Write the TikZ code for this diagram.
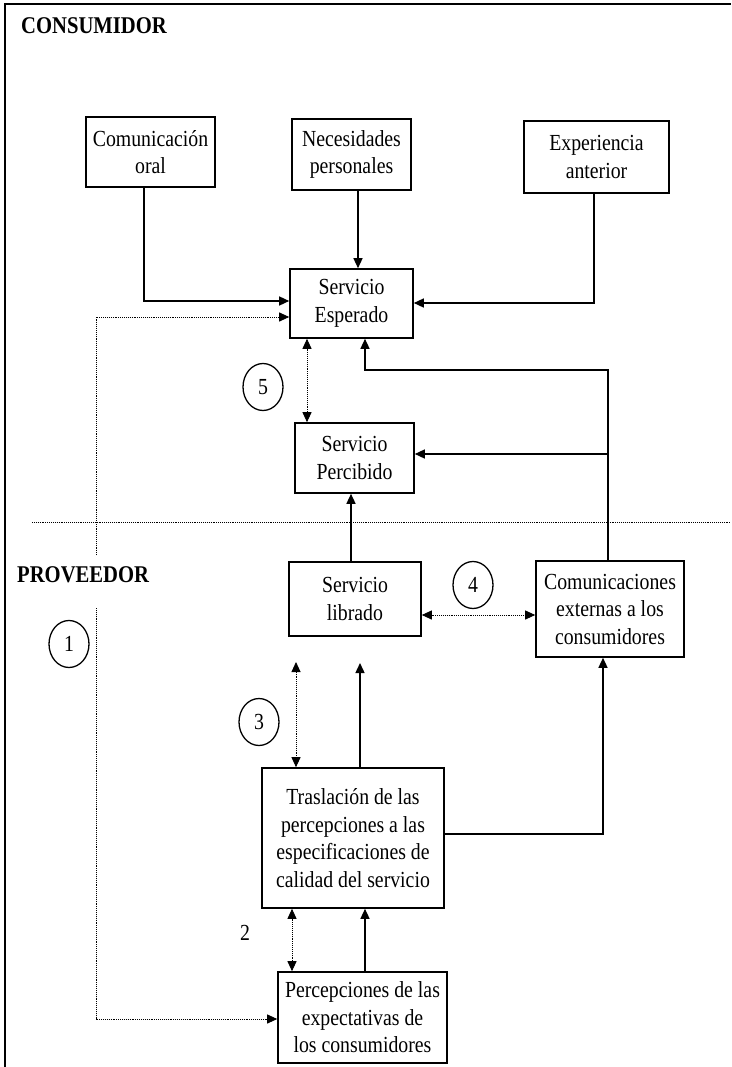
\documentclass[tikz,border=0pt]{standalone}
\usepackage{fontspec}
\setmainfont{Liberation Serif}
\newfontfamily\boxfont[FakeStretch=0.86]{Liberation Serif}
\newfontfamily\headfont[FakeStretch=0.86]{Liberation Serif}
\usetikzlibrary{arrows.meta,shapes.geometric}

\begin{document}
\begin{tikzpicture}[x=1pt,y=-1pt,
  box/.style={draw,line width=1.6pt,inner sep=0pt,align=center,
    font=\boxfont\fontsize{23}{27.5}\selectfont},
  conn/.style={line width=1.4pt,-{Triangle[length=10pt,width=9pt]}},
  dot/.style={densely dotted,line width=0.9pt},
  tipd/.style={-{Triangle[length=10pt,width=9pt]}},
  both/.style={{Triangle[length=10pt,width=9pt]}-{Triangle[length=10pt,width=9pt]}},
  num/.style={draw,ellipse,line width=1.3pt,minimum width=40pt,minimum height=47pt,
    inner sep=0pt,font=\boxfont\fontsize{23}{24}\selectfont},
  heading/.style={anchor=west,inner sep=0pt,font=\headfont\bfseries\fontsize{24}{26}\selectfont}]

\useasboundingbox[fill=white] (0,0) rectangle (731,1067);

% frame
\draw[line width=1.6pt] (5,1067) -- (5,4) -- (731,4);

% headings
\node[heading] (cons) at (21,26) {CONSUMIDOR};
\node[heading] (prov) at (17,575) {PROVEEDOR};

% boxes
\node[box,minimum width=129pt,minimum height=70pt] (oral) at (150.5,152) {Comunicación\\oral};
\node[box,minimum width=119pt,minimum height=71pt] (nec) at (351.5,154.5) {Necesidades\\personales};
\node[box,minimum width=145pt,minimum height=72pt] (exp) at (596.5,157) {Experiencia\\anterior};
\node[box,minimum width=123pt,minimum height=69pt] (esp) at (351.5,303.5) {Servicio\\Esperado};
\node[box,minimum width=119pt,minimum height=70pt] (perc) at (354.5,458) {Servicio\\Percibido};
\node[box,minimum width=132pt,minimum height=74pt] (libr) at (355,599) {Servicio\\librado};
\node[box,minimum width=148pt,minimum height=96pt] (com) at (610,609) {Comunicaciones\\externas a los\\consumidores};
\node[box,minimum width=182pt,minimum height=140pt] (tras) at (353,838) {Traslación de las\\percepciones a las\\especificaciones de\\calidad del servicio};
\node[box,minimum width=169pt,minimum height=91pt] (pexp) at (362.5,1017.5) {Percepciones de las\\expectativas de\\los consumidores};

% numbers
\node[num] (n5) at (263,387) {5};
\node[num] (n4) at (473,585) {4};
\node[num] (n1) at (69,644) {1};
\node[num] (n3) at (259,722) {3};
\node[inner sep=0pt,font=\boxfont\fontsize{23}{24}\selectfont] (n2) at (245,933) {2};

% helper coordinates
\coordinate (xoral) at (144,0);
\coordinate (xnec) at (358,0);
\coordinate (xexp) at (594,0);
\coordinate (xcom) at (608,0);
\coordinate (xes) at (365,0);
\coordinate (xd5) at (307,0);
\coordinate (xlib) at (351,0);
\coordinate (xtc) at (603,0);
\coordinate (x2d) at (292,0);
\coordinate (x2s) at (365,0);
\coordinate (yesp1) at (0,301);
\coordinate (yesp2) at (0,303);
\coordinate (yd1) at (0,317);
\coordinate (yc) at (0,370);
\coordinate (yperc) at (0,454);
\coordinate (y4) at (0,615);
\coordinate (ytra) at (0,834);
\coordinate (ypexp) at (0,1019);
\coordinate (g1) at (96,555);
\coordinate (g2) at (96,608);
\coordinate (t3d) at (296,662);
\coordinate (t3s) at (360,663);
\coordinate (sepL) at (32,522);
\coordinate (sepR) at (731,522);

% separator
\draw[dot] (sepL) -- (sepR);

% solid connectors
\draw[conn] (oral.south -| xoral) |- (esp.west |- yesp1);
\draw[conn] (nec.south -| xnec) -- (esp.north -| xnec);
\draw[conn] (exp.south -| xexp) |- (esp.east |- yesp2);
\draw[conn] (com.north -| xcom) |- (yc -| xes) -- (esp.south -| xes);
\draw[conn] (xcom |- yperc) -- (perc.east |- yperc);
\draw[conn] (libr.north -| xlib) -- (perc.south -| xlib);
\draw[conn] (tras.north -| t3s) -- (t3s);
\draw[conn] (tras.east |- ytra) -| (com.south -| xtc);
\draw[conn] (pexp.north -| x2s) -- (tras.south -| x2s);

% dotted connectors
\draw[dot,both] (esp.south -| xd5) -- (perc.north -| xd5);
\draw[dot,both] (libr.east |- y4) -- (com.west |- y4);
\draw[dot,both] (t3d) -- (tras.north -| t3d);
\draw[dot,both] (tras.south -| x2d) -- (pexp.north -| x2d);
\draw[dot,tipd] (g1) |- (esp.west |- yd1);
\draw[dot,tipd] (g2) |- (pexp.west |- ypexp);
\end{tikzpicture}
\end{document}
